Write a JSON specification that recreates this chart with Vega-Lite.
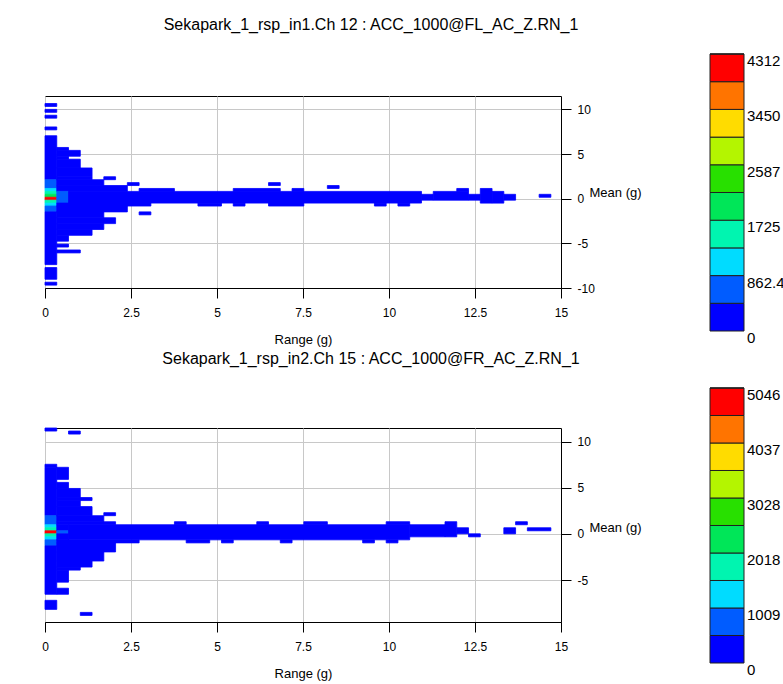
{
  "$schema": "https://vega.github.io/schema/vega-lite/v6.json",
  "background": "white",
  "padding": {"left": 41, "top": 16, "right": 0, "bottom": 0},
  "config": {
    "font": "Liberation Sans",
    "view": {"stroke": "black", "strokeWidth": 1},
    "axis": {"gridColor": "#c8c8c8", "gridWidth": 1, "domainColor": "black", "tickColor": "black", "labelColor": "black", "titleColor": "black", "labelFont": "Liberation Sans", "titleFont": "Liberation Sans", "labelFontSize": 12, "titleFontSize": 13, "titleFontWeight": "normal", "tickSize": 10, "labelFlush": false, "labelOverlap": false},
    "title": {"font": "Liberation Sans", "fontSize": 16, "fontWeight": "normal", "color": "black"},
    "legend": {"labelFont": "Liberation Sans", "labelFontSize": 15, "labelColor": "black"}
  },
  "datasets": {
    "top": [
      {"x0":0,"x1":0.342,"y0":10.33,"y1":10.658,"c":150},
      {"x0":0,"x1":0.342,"y0":9.674,"y1":10.002,"c":150},
      {"x0":0,"x1":0.342,"y0":9.018,"y1":9.346,"c":150},
      {"x0":0,"x1":0.342,"y0":7.706,"y1":8.034,"c":150},
      {"x0":0,"x1":0.342,"y0":2.13,"y1":7.05,"c":250},
      {"x0":0,"x1":0.342,"y0":1.146,"y1":2.13,"c":620},
      {"x0":0,"x1":0.342,"y0":0.818,"y1":1.146,"c":980},
      {"x0":0,"x1":0.342,"y0":0.49,"y1":0.818,"c":1480},
      {"x0":0,"x1":0.342,"y0":0.162,"y1":0.49,"c":1900},
      {"x0":0,"x1":0.342,"y0":-0.166,"y1":0.162,"c":4312},
      {"x0":0,"x1":0.342,"y0":-0.494,"y1":-0.166,"c":1500},
      {"x0":0,"x1":0.342,"y0":-0.822,"y1":-0.494,"c":1000},
      {"x0":0,"x1":0.342,"y0":-1.478,"y1":-0.822,"c":600},
      {"x0":0,"x1":0.342,"y0":-7.382,"y1":-1.478,"c":250},
      {"x0":0,"x1":0.342,"y0":-9.022,"y1":-7.71,"c":150},
      {"x0":0,"x1":0.342,"y0":-9.678,"y1":-9.35,"c":150},
      {"x0":0.342,"x1":0.684,"y0":5.41,"y1":5.738,"c":120},
      {"x0":0.342,"x1":1.026,"y0":4.754,"y1":5.41,"c":120},
      {"x0":0.342,"x1":0.684,"y0":4.426,"y1":4.754,"c":120},
      {"x0":0.342,"x1":1.026,"y0":3.442,"y1":4.426,"c":120},
      {"x0":0.342,"x1":1.368,"y0":2.458,"y1":3.442,"c":130},
      {"x0":0.342,"x1":1.368,"y0":2.13,"y1":2.458,"c":130},
      {"x0":1.71,"x1":2.052,"y0":2.13,"y1":2.458,"c":40},
      {"x0":0.342,"x1":1.71,"y0":1.474,"y1":2.13,"c":150},
      {"x0":2.394,"x1":2.736,"y0":1.474,"y1":1.802,"c":40},
      {"x0":0.342,"x1":2.394,"y0":0.818,"y1":1.474,"c":180},
      {"x0":2.736,"x1":3.762,"y0":0.818,"y1":1.146,"c":60},
      {"x0":0.342,"x1":0.684,"y0":-0.494,"y1":0.818,"c":650},
      {"x0":0.684,"x1":10.944,"y0":-0.494,"y1":0.818,"c":200},
      {"x0":10.944,"x1":11.286,"y0":-0.166,"y1":0.49,"c":60},
      {"x0":11.286,"x1":12.312,"y0":-0.166,"y1":0.818,"c":70},
      {"x0":12.312,"x1":12.654,"y0":-0.166,"y1":0.49,"c":50},
      {"x0":12.654,"x1":12.996,"y0":-0.494,"y1":1.146,"c":50},
      {"x0":12.996,"x1":13.338,"y0":-0.494,"y1":0.818,"c":40},
      {"x0":13.338,"x1":13.68,"y0":-0.166,"y1":0.49,"c":30},
      {"x0":14.364,"x1":14.706,"y0":0.162,"y1":0.49,"c":10},
      {"x0":5.472,"x1":6.84,"y0":0.818,"y1":1.146,"c":30},
      {"x0":7.182,"x1":7.524,"y0":0.818,"y1":1.146,"c":20},
      {"x0":11.97,"x1":12.312,"y0":0.818,"y1":1.146,"c":20},
      {"x0":8.208,"x1":8.55,"y0":1.146,"y1":1.474,"c":20},
      {"x0":6.498,"x1":6.84,"y0":1.474,"y1":1.802,"c":20},
      {"x0":4.446,"x1":5.13,"y0":-0.822,"y1":-0.494,"c":30},
      {"x0":5.472,"x1":5.814,"y0":-0.822,"y1":-0.494,"c":30},
      {"x0":6.498,"x1":7.524,"y0":-0.822,"y1":-0.494,"c":30},
      {"x0":9.576,"x1":9.918,"y0":-0.822,"y1":-0.494,"c":20},
      {"x0":10.26,"x1":10.602,"y0":-0.822,"y1":-0.494,"c":20},
      {"x0":0.342,"x1":3.078,"y0":-0.822,"y1":-0.494,"c":180},
      {"x0":0.342,"x1":2.394,"y0":-1.478,"y1":-0.822,"c":160},
      {"x0":0.342,"x1":1.71,"y0":-2.134,"y1":-1.478,"c":140},
      {"x0":2.736,"x1":3.078,"y0":-1.806,"y1":-1.478,"c":30},
      {"x0":0.342,"x1":2.052,"y0":-2.79,"y1":-2.134,"c":130},
      {"x0":0.342,"x1":1.71,"y0":-3.446,"y1":-2.79,"c":120},
      {"x0":0.342,"x1":1.368,"y0":-4.102,"y1":-3.446,"c":110},
      {"x0":0.342,"x1":0.684,"y0":-4.758,"y1":-4.102,"c":100},
      {"x0":0.342,"x1":0.684,"y0":-5.414,"y1":-5.086,"c":60},
      {"x0":0.342,"x1":1.026,"y0":-6.07,"y1":-5.742,"c":50}
    ],
    "bot": [
      {"x0":0,"x1":0.342,"y0":11.171,"y1":11.499,"c":150},
      {"x0":0,"x1":0.342,"y0":7.235,"y1":7.563,"c":150},
      {"x0":0,"x1":0.342,"y0":1.987,"y1":7.235,"c":250},
      {"x0":0,"x1":0.342,"y0":1.003,"y1":1.987,"c":750},
      {"x0":0,"x1":0.342,"y0":0.675,"y1":1.003,"c":1200},
      {"x0":0,"x1":0.342,"y0":0.347,"y1":0.675,"c":1750},
      {"x0":0,"x1":0.342,"y0":0.019,"y1":0.347,"c":5046},
      {"x0":0,"x1":0.342,"y0":-0.309,"y1":0.019,"c":1750},
      {"x0":0,"x1":0.342,"y0":-0.637,"y1":-0.309,"c":1200},
      {"x0":0,"x1":0.342,"y0":-1.293,"y1":-0.637,"c":750},
      {"x0":0,"x1":0.342,"y0":-6.541,"y1":-1.293,"c":250},
      {"x0":0,"x1":0.342,"y0":-8.181,"y1":-7.197,"c":150},
      {"x0":0.684,"x1":1.026,"y0":10.843,"y1":11.171,"c":40},
      {"x0":0.342,"x1":0.684,"y0":5.923,"y1":7.235,"c":120},
      {"x0":0.342,"x1":0.684,"y0":4.939,"y1":5.595,"c":120},
      {"x0":0.342,"x1":1.026,"y0":3.955,"y1":4.939,"c":130},
      {"x0":0.342,"x1":1.368,"y0":3.627,"y1":3.955,"c":130},
      {"x0":0.342,"x1":1.026,"y0":2.971,"y1":3.627,"c":140},
      {"x0":0.342,"x1":1.368,"y0":1.987,"y1":2.971,"c":150},
      {"x0":1.71,"x1":2.052,"y0":1.987,"y1":2.315,"c":40},
      {"x0":0.342,"x1":1.71,"y0":1.331,"y1":1.987,"c":160},
      {"x0":0.342,"x1":2.052,"y0":1.003,"y1":1.331,"c":180},
      {"x0":0.342,"x1":0.684,"y0":0.347,"y1":1.003,"c":300},
      {"x0":0.342,"x1":0.684,"y0":0.019,"y1":0.347,"c":800},
      {"x0":0.342,"x1":0.684,"y0":-0.637,"y1":0.019,"c":300},
      {"x0":0.684,"x1":10.602,"y0":-0.637,"y1":1.003,"c":200},
      {"x0":10.602,"x1":11.628,"y0":-0.309,"y1":1.003,"c":60},
      {"x0":11.628,"x1":11.97,"y0":-0.309,"y1":1.331,"c":40},
      {"x0":11.97,"x1":12.312,"y0":0.019,"y1":0.675,"c":30},
      {"x0":12.312,"x1":12.654,"y0":-0.309,"y1":0.019,"c":20},
      {"x0":13.338,"x1":13.68,"y0":0.019,"y1":0.675,"c":20},
      {"x0":13.68,"x1":14.022,"y0":1.003,"y1":1.331,"c":10},
      {"x0":14.022,"x1":14.706,"y0":0.347,"y1":0.675,"c":10},
      {"x0":3.762,"x1":4.104,"y0":1.003,"y1":1.331,"c":30},
      {"x0":6.156,"x1":6.498,"y0":1.003,"y1":1.331,"c":30},
      {"x0":7.524,"x1":8.208,"y0":1.003,"y1":1.331,"c":30},
      {"x0":9.918,"x1":10.602,"y0":1.003,"y1":1.331,"c":30},
      {"x0":4.104,"x1":4.788,"y0":-0.965,"y1":-0.637,"c":30},
      {"x0":5.13,"x1":5.472,"y0":-0.965,"y1":-0.637,"c":30},
      {"x0":6.84,"x1":7.182,"y0":-0.965,"y1":-0.637,"c":30},
      {"x0":9.234,"x1":9.576,"y0":-0.965,"y1":-0.637,"c":20},
      {"x0":9.918,"x1":10.26,"y0":-0.965,"y1":-0.637,"c":20},
      {"x0":0.342,"x1":2.736,"y0":-0.965,"y1":-0.637,"c":180},
      {"x0":0.342,"x1":2.052,"y0":-1.949,"y1":-0.965,"c":160},
      {"x0":0.342,"x1":1.71,"y0":-2.933,"y1":-1.949,"c":140},
      {"x0":0.342,"x1":1.368,"y0":-3.589,"y1":-2.933,"c":120},
      {"x0":0.342,"x1":1.026,"y0":-3.917,"y1":-3.589,"c":110},
      {"x0":0.342,"x1":0.684,"y0":-5.229,"y1":-3.917,"c":100},
      {"x0":0.342,"x1":0.684,"y0":-6.541,"y1":-5.885,"c":60},
      {"x0":1.026,"x1":1.368,"y0":-8.837,"y1":-8.509,"c":20}
    ]
  },
  "spacing": 3,
  "resolve": {"scale": {"color": "independent", "stroke": "independent"}, "legend": {"color": "independent"}},
  "vconcat": [
    {
      "width": 516,
      "height": 192,
      "title": {"text": "Sekapark_1_rsp_in1.Ch 12 : ACC_1000@FL_AC_Z.RN_1", "dx": 68, "offset": 21},
      "data": {"name": "top"},
      "mark": {"type": "rect", "strokeWidth": 0.8},
      "encoding": {
        "x": {"field": "x0", "type": "quantitative", "scale": {"domain": [0, 15], "nice": false, "zero": false},
              "axis": {"values": [0, 2.5, 5, 7.5, 10, 12.5, 15], "labelExpr": "datum.value + ''", "title": "Range (g)", "labelPadding": 9, "titlePadding": 15}},
        "x2": {"field": "x1"},
        "y": {"field": "y0", "type": "quantitative", "scale": {"domain": [-10, 11.5], "nice": false, "zero": false},
              "axis": {"orient": "right", "values": [-10, -5, 0, 5, 10], "labelExpr": "datum.value + ''", "labelPadding": 6, "title": "Mean (g)", "titleAngle": 0, "titleAlign": "left", "titleBaseline": "middle", "titleX": 28, "titleY": 96}},
        "y2": {"field": "y1"},
        "color": {"field": "c", "type": "quantitative",
                  "scale": {"type": "quantize", "domain": [0, 4312], "nice": false, "range": ["#0000ff", "#005cff", "#00dcff", "#00f5b0", "#00e658", "#28e000", "#b4f500", "#ffdc00", "#ff7400", "#ff0000"]},
                  "legend": {"type": "gradient", "orient": "none", "legendX": 665, "legendY": -42, "direction": "vertical", "gradientLength": 277, "gradientThickness": 34, "gradientStrokeColor": "#202020", "gradientStrokeWidth": 1,
                             "values": [0, 431.25, 862.45, 1293.65, 1724.85, 2156.05, 2587.25, 3018.45, 3449.65, 3880.85, 4312],
                             "labelExpr": "round(datum.value / 431.2) % 2 == 0 ? format(round(datum.value / 431.2) * 431.2, '.4~r') : ''",
                             "labelBaseline": "top", "labelOffset": 3, "labelOverlap": false, "title": null,
                             "encode": {"labels": {"update": {"baseline": {"value": "top"}}}}}},
        "stroke": {"field": "c", "type": "quantitative", "legend": null,
                   "scale": {"type": "quantize", "domain": [0, 4312], "nice": false, "range": ["#0000ff", "#005cff", "#00dcff", "#00f5b0", "#00e658", "#28e000", "#b4f500", "#ffdc00", "#ff7400", "#ff0000"]}}
      }
    },
    {
      "width": 516,
      "height": 194,
      "title": {"text": "Sekapark_1_rsp_in2.Ch 15 : ACC_1000@FR_AC_Z.RN_1", "dx": 68, "offset": 21},
      "data": {"name": "bot"},
      "mark": {"type": "rect", "strokeWidth": 0.8},
      "encoding": {
        "x": {"field": "x0", "type": "quantitative", "scale": {"domain": [0, 15], "nice": false, "zero": false},
              "axis": {"values": [0, 2.5, 5, 7.5, 10, 12.5, 15], "labelExpr": "datum.value + ''", "title": "Range (g)", "labelPadding": 9, "titlePadding": 15}},
        "x2": {"field": "x1"},
        "y": {"field": "y0", "type": "quantitative", "scale": {"domain": [-9.55, 11.5], "nice": false, "zero": false},
              "axis": {"orient": "right", "values": [-5, 0, 5, 10], "labelExpr": "datum.value + ''", "labelPadding": 6, "title": "Mean (g)", "titleAngle": 0, "titleAlign": "left", "titleBaseline": "middle", "titleX": 28, "titleY": 99}},
        "y2": {"field": "y1"},
        "color": {"field": "c", "type": "quantitative",
                  "scale": {"type": "quantize", "domain": [0, 5046], "nice": false, "range": ["#0000ff", "#005cff", "#00dcff", "#00f5b0", "#00e658", "#28e000", "#b4f500", "#ffdc00", "#ff7400", "#ff0000"]},
                  "legend": {"type": "gradient", "orient": "none", "legendX": 665, "legendY": -40, "direction": "vertical", "gradientLength": 275, "gradientThickness": 34, "gradientStrokeColor": "#202020", "gradientStrokeWidth": 1,
                             "values": [0, 504.65, 1009.25, 1513.85, 2018.45, 2523.05, 3027.65, 3532.25, 4036.85, 4541.45, 5046],
                             "labelExpr": "round(datum.value / 504.6) % 2 == 0 ? format(round(datum.value / 504.6) * 504.6, '.4~r') : ''",
                             "labelBaseline": "top", "labelOffset": 3, "labelOverlap": false, "title": null,
                             "encode": {"labels": {"update": {"baseline": {"value": "top"}}}}}},
        "stroke": {"field": "c", "type": "quantitative", "legend": null,
                   "scale": {"type": "quantize", "domain": [0, 5046], "nice": false, "range": ["#0000ff", "#005cff", "#00dcff", "#00f5b0", "#00e658", "#28e000", "#b4f500", "#ffdc00", "#ff7400", "#ff0000"]}}
      }
    }
  ]
}
